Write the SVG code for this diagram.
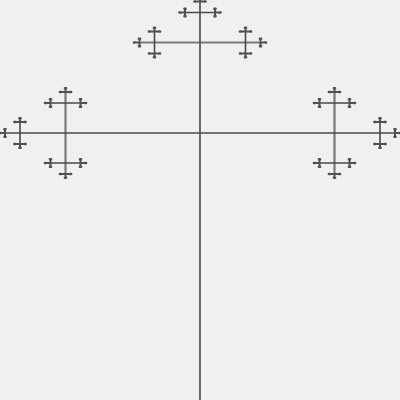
<svg xmlns="http://www.w3.org/2000/svg" xmlns:xlink="http://www.w3.org/1999/xlink" width="400" height="400" viewBox="0 0 400 400">
  <style>
    .ln { fill: none; stroke: #4a4a4a; stroke-width: 1.6; stroke-linecap: butt; }
    .l2 { fill: none; stroke: #7a7a7a; stroke-width: 2.2; }
    .sm { fill: none; stroke: #505050; stroke-width: 2; }
  </style>
  <defs>
    <path id="nU" class="sm" d="M-6.7,0H6.7 M0,0V-4.9 M-5,-1.2V1.2 M5,-1.2V1.2 M-1.7,-3.7H1.7"/>
    <path id="nD" class="sm" d="M-6.7,0H6.7 M0,0V4.9 M-5,-1.2V1.2 M5,-1.2V1.2 M-1.7,3.7H1.7"/>
    <path id="nL" class="sm" d="M0,-4.9V4.9 M0,0H-6.7 M-1.7,-3.7H1.7 M-1.7,3.7H1.7 M-5,-1.2V1.2"/>
    <path id="nR" class="sm" d="M0,-4.9V4.9 M0,0H6.7 M-1.7,-3.7H1.7 M-1.7,3.7H1.7 M5,-1.2V1.2"/>
  </defs>
  <rect width="400" height="400" fill="#f0f0f0"/>
  <g id="fractal">
    <path class="l2" d="M65.5,92V174 M334.5,92V174 M139.5,42.5H260.5"/>
    <path class="ln" d="M200,400V1.5 M5,133H395"/>
    <path class="ln" d="M50.5,103H80.5 M50.5,163H80.5 M319.5,103H349.5 M319.5,163H349.5
      M20,122V144 M380,122V144 M154.5,31.5V53.5 M245.5,31.5V53.5 M185,12.5H215"/>
    <use xlink:href="#nL" x="5" y="133"/>
    <use xlink:href="#nU" x="20" y="122"/>
    <use xlink:href="#nD" x="20" y="144"/>
    <use xlink:href="#nL" x="50.5" y="103"/>
    <use xlink:href="#nR" x="80.5" y="103"/>
    <use xlink:href="#nU" x="65.5" y="92"/>
    <use xlink:href="#nL" x="50.5" y="163"/>
    <use xlink:href="#nR" x="80.5" y="163"/>
    <use xlink:href="#nD" x="65.5" y="174"/>
    <use xlink:href="#nR" x="395" y="133"/>
    <use xlink:href="#nU" x="380" y="122"/>
    <use xlink:href="#nD" x="380" y="144"/>
    <use xlink:href="#nL" x="319.5" y="103"/>
    <use xlink:href="#nR" x="349.5" y="103"/>
    <use xlink:href="#nU" x="334.5" y="92"/>
    <use xlink:href="#nL" x="319.5" y="163"/>
    <use xlink:href="#nR" x="349.5" y="163"/>
    <use xlink:href="#nD" x="334.5" y="174"/>
    <use xlink:href="#nL" x="139.5" y="42.5"/>
    <use xlink:href="#nU" x="154.5" y="31.5"/>
    <use xlink:href="#nD" x="154.5" y="53.5"/>
    <use xlink:href="#nR" x="260.5" y="42.5"/>
    <use xlink:href="#nU" x="245.5" y="31.5"/>
    <use xlink:href="#nD" x="245.5" y="53.5"/>
    <use xlink:href="#nL" x="185" y="12.5"/>
    <use xlink:href="#nR" x="215" y="12.5"/>
    <use xlink:href="#nU" x="200" y="1.5"/>
  </g>
</svg>
